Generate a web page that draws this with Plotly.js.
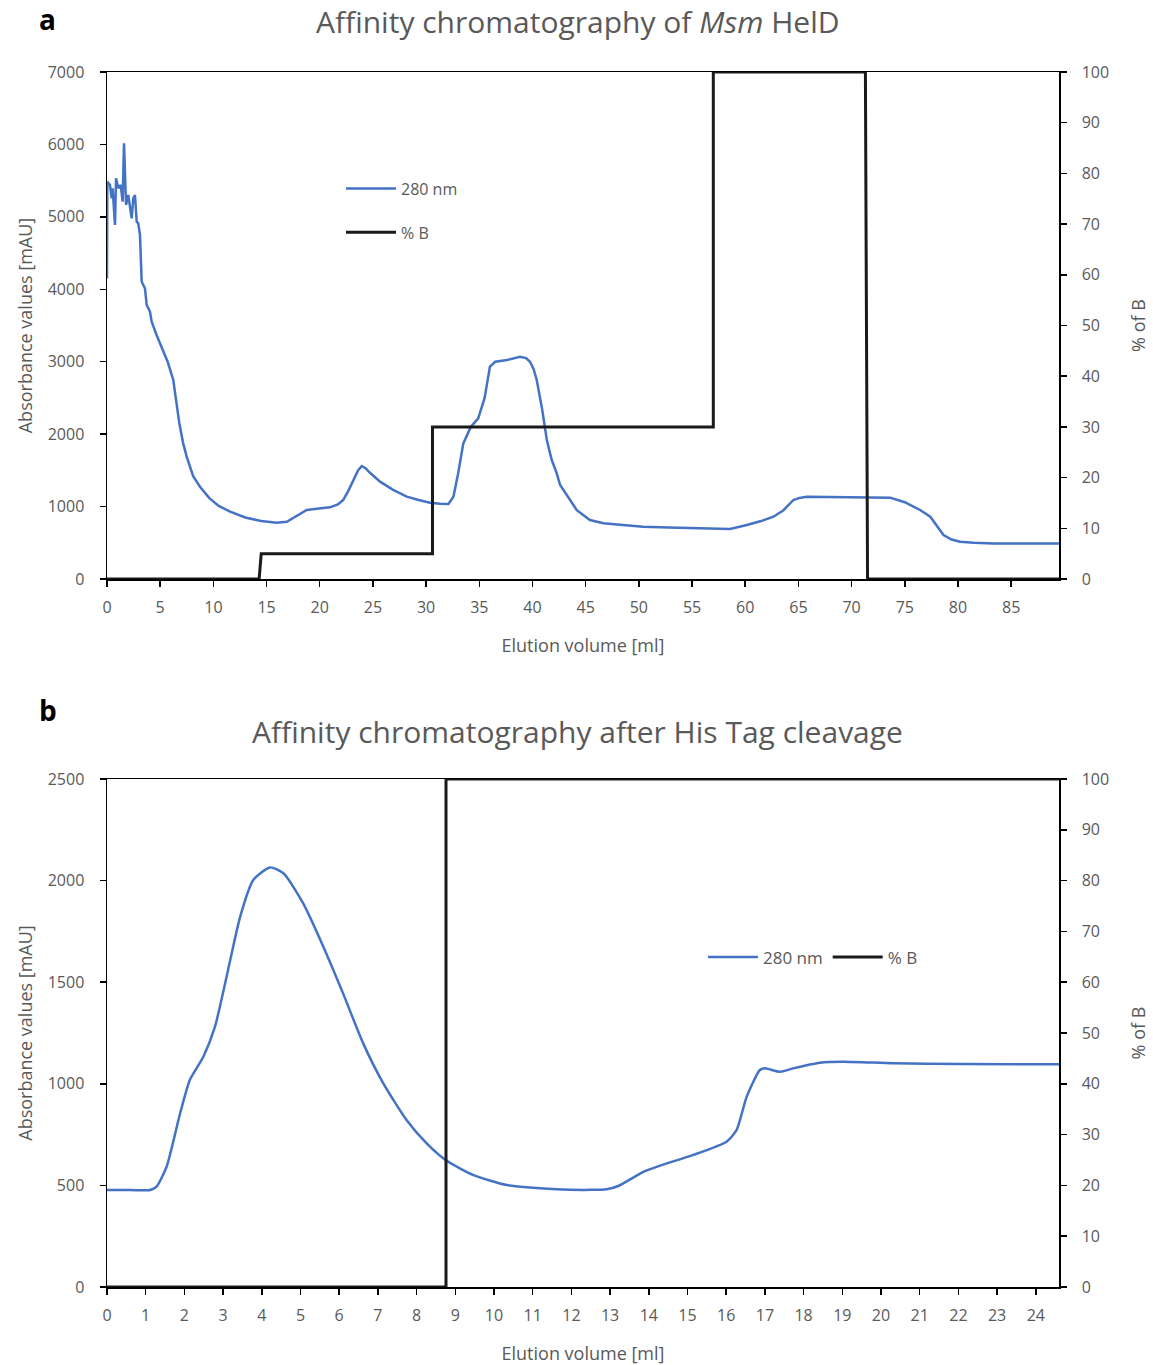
<!DOCTYPE html>
<html>
<head>
<meta charset="utf-8">
<script src="https://cdn.plot.ly/plotly-3.0.1.min.js"></script>
<style>html,body{margin:0;padding:0;background:#fff;}#chart{width:1153px;height:1365px;}</style>
</head>
<body>
<div id="chart"></div>
<script>
// ---------- Panel a data ----------
const a_vol_280 = [0.0, 0.03, 0.28, 0.44, 0.53, 0.75, 0.85, 1.06, 1.29, 1.47, 1.6, 1.79, 2.0, 2.32, 2.47, 2.63, 2.79, 2.94, 3.1, 3.26, 3.57, 3.73, 4.04, 4.2, 4.66, 5.2, 5.7, 6.23, 6.5, 6.8, 7.15, 7.49, 8.1, 8.74, 9.6, 10.5, 11.57, 13.0, 14.5, 15.95, 16.9, 17.8, 18.78, 19.9, 20.97, 21.7, 22.2, 22.7, 23.16, 23.6, 23.95, 24.3, 24.7, 25.67, 26.9, 28.18, 29.3, 30.37, 31.3, 32.1, 32.57, 33.0, 33.5, 34.2, 34.9, 35.5, 36.0, 36.5, 37.6, 38.83, 39.4, 39.77, 40.1, 40.4, 40.9, 41.35, 41.8, 42.28, 42.6, 43.3, 44.17, 45.4, 46.67, 48.5, 50.4, 52.8, 55.13, 57.0, 58.58, 60.15, 61.5, 62.66, 63.6, 64.53, 65.1, 65.78, 68.0, 70.8, 73.63, 75.0, 76.44, 77.4, 78.0, 78.64, 79.4, 80.2, 81.5, 83.34, 86.5, 89.5];
const a_abs_280 = [4150, 5486, 5440, 5256, 5394, 4888, 5532, 5394, 5440, 5210, 6016, 5164, 5302, 4980, 5256, 5302, 4933, 4911, 4750, 4105, 4014, 3783, 3691, 3553, 3369, 3180, 3000, 2748, 2450, 2150, 1880, 1689, 1420, 1275, 1120, 1010, 929, 850, 800, 778, 791, 870, 953, 975, 990, 1030, 1090, 1220, 1367, 1500, 1560, 1530, 1470, 1344, 1230, 1137, 1090, 1054, 1040, 1035, 1137, 1450, 1873, 2100, 2218, 2500, 2932, 3000, 3024, 3069, 3050, 3000, 2900, 2748, 2350, 1919, 1650, 1459, 1298, 1150, 950, 815, 769, 745, 722, 710, 700, 695, 690, 745, 800, 860, 950, 1091, 1120, 1137, 1135, 1123, 1123, 1060, 953, 860, 740, 607, 545, 515, 500, 492, 492, 492];
const a_vol_B = [0, 14.3, 14.5, 30.6, 30.6, 57.0, 57.0, 71.3, 71.5, 89.5];
const a_pct_B = [0, 0, 5, 5, 30, 30, 100, 100, 0, 0];

// ---------- Panel b data ----------
const b_vol_280 = [0.0, 0.6, 1.11, 1.28, 1.54, 1.89, 2.14, 2.49, 2.79, 3.09, 3.44, 3.78, 4.21, 4.56, 5.07, 5.59, 6.1, 6.62, 7.14, 7.74, 8.26, 8.78, 9.47, 10.33, 11.62, 12.5, 12.91, 13.21, 13.86, 14.29, 15.15, 16.01, 16.27, 16.53, 16.87, 17.0, 17.39, 17.73, 18.42, 19.03, 20.32, 22.04, 24.6];
const b_abs_280 = [477, 477, 477, 494, 592, 855, 1019, 1133, 1281, 1527, 1822, 2003, 2065, 2036, 1888, 1675, 1445, 1199, 1002, 822, 707, 621, 551, 502, 481, 478, 481, 497, 567, 597, 650, 715, 773, 937, 1068, 1076, 1059, 1076, 1104, 1109, 1101, 1097, 1096];
const b_vol_B = [0, 8.76, 8.76, 24.6];
const b_pct_B = [0, 0, 100, 100];

// ---------- Tick labels ----------
const a_xticks = [0, 5, 10, 15, 20, 25, 30, 35, 40, 45, 50, 55, 60, 65, 70, 75, 80, 85];
const b_xticks = [0, 1, 2, 3, 4, 5, 6, 7, 8, 9, 10, 11, 12, 13, 14, 15, 16, 17, 18, 19, 20, 21, 22, 23, 24];

const BLUE = '#4472C4';
const DARK = '#1a1a1a';
const GREY = '#595959';
const FONT = 'Open Sans, sans-serif';

const traces = [
  {x: a_vol_280, y: a_abs_280, xaxis: 'x', yaxis: 'y', name: '280 nm', type: 'scatter', mode: 'lines',
   line: {color: BLUE, width: 2.5}, legend: 'legend', legendgroup: 'a1'},
  {x: a_vol_B, y: a_pct_B, xaxis: 'x', yaxis: 'y2', name: '% B', type: 'scatter', mode: 'lines',
   line: {color: DARK, width: 3}, legend: 'legend', legendgroup: 'a2'},
  {x: b_vol_280, y: b_abs_280, xaxis: 'x2', yaxis: 'y3', name: '280 nm', type: 'scatter', mode: 'lines',
   line: {color: BLUE, width: 2.5, shape: 'spline', smoothing: 0.6}, legend: 'legend2'},
  {x: b_vol_B, y: b_pct_B, xaxis: 'x2', yaxis: 'y4', name: '% B', type: 'scatter', mode: 'lines',
   line: {color: DARK, width: 3}, legend: 'legend2'}
];

const axFont = {family: FONT, size: 16, color: GREY};
const titleFont = {family: FONT, size: 18, color: GREY};

function xax(domainAnchor, tv, range) {
  return {anchor: domainAnchor, range: range, tickvals: tv, ticktext: tv.map(String),
    showline: true, linecolor: '#000', linewidth: 1.5, mirror: true,
    ticks: 'outside', ticklen: 6, tickcolor: '#000', tickwidth: 1.5,
    showgrid: false, zeroline: false, tickfont: axFont, ticklabelstandoff: 7,
    title: {text: 'Elution volume [ml]', font: titleFont, standoff: 22}};
}
function yax(domain, anchor, range, dtick, title, side, overlaying) {
  const o = {domain: domain, anchor: anchor, range: range, dtick: dtick, tick0: 0,
    showline: true, linecolor: '#000', linewidth: 1.5,
    ticks: 'outside', ticklen: 6, tickcolor: '#000', tickwidth: 1.5,
    showgrid: false, zeroline: false, tickfont: axFont, ticklabelstandoff: 12,
    title: {text: title, font: titleFont, standoff: side ? 24 : 10}};
  if (side) o.side = side;
  if (overlaying) o.overlaying = overlaying;
  return o;
}

const layout = {
  width: 1153, height: 1365,
  margin: {l: 107, r: 94, t: 72, b: 78},
  paper_bgcolor: '#fff', plot_bgcolor: '#fff',
  font: {family: FONT, color: GREY},
  showlegend: true,
  xaxis: xax('y', a_xticks, [0, 89.5]),
  yaxis: yax([0.5827, 1], 'x', [0, 7000], 1000, 'Absorbance values [mAU]'),
  yaxis2: yax([0.5827, 1], 'x', [0, 100], 10, '% of B', 'right', 'y'),
  xaxis2: xax('y3', b_xticks, [0, 24.6]),
  yaxis3: yax([0, 0.4181], 'x2', [0, 2500], 500, 'Absorbance values [mAU]'),
  yaxis4: yax([0, 0.4181], 'x2', [0, 100], 10, '% of B', 'right', 'y3'),
  legend: {x: 0.2458, xanchor: 'left', y: 0.918, yanchor: 'top', orientation: 'v', itemwidth: 50,
    font: {family: FONT, size: 16, color: GREY}, bgcolor: 'rgba(0,0,0,0)', tracegroupgap: 20},
  legend2: {x: 0.626, xanchor: 'left', y: 0.286, yanchor: 'top', orientation: 'h', itemwidth: 50,
    font: {family: FONT, size: 17, color: GREY}, bgcolor: 'rgba(0,0,0,0)'},
  annotations: [
    {text: '<b>a</b>', x: 37, y: 19, showarrow: false,
     font: {family: FONT, size: 28, color: '#000'}, xanchor: 'left', yanchor: 'middle'},
    {text: '<b>b</b>', x: 37, y: 710, showarrow: false,
     font: {family: FONT, size: 28, color: '#000'}, xanchor: 'left', yanchor: 'middle'},
    {text: 'Affinity chromatography of <i>Msm</i> HelD', x: 578, y: 22, showarrow: false,
     font: {family: FONT, size: 30, color: GREY}, xanchor: 'center', yanchor: 'middle'},
    {text: 'Affinity chromatography after His Tag cleavage', x: 577, y: 731, showarrow: false,
     font: {family: FONT, size: 30, color: GREY}, xanchor: 'center', yanchor: 'middle'}
  ]
};
// convert pixel annotation positions to paper coordinates
const plotW = 1153 - 107 - 94, plotH = 1365 - 72 - 78;
layout.annotations.forEach(a => {
  a.xref = 'paper'; a.yref = 'paper';
  a.x = (a.x - 107) / plotW;
  a.y = (1287 - a.y) / plotH;
});

Plotly.newPlot('chart', traces, layout, {staticPlot: true});
</script>
</body>
</html>
